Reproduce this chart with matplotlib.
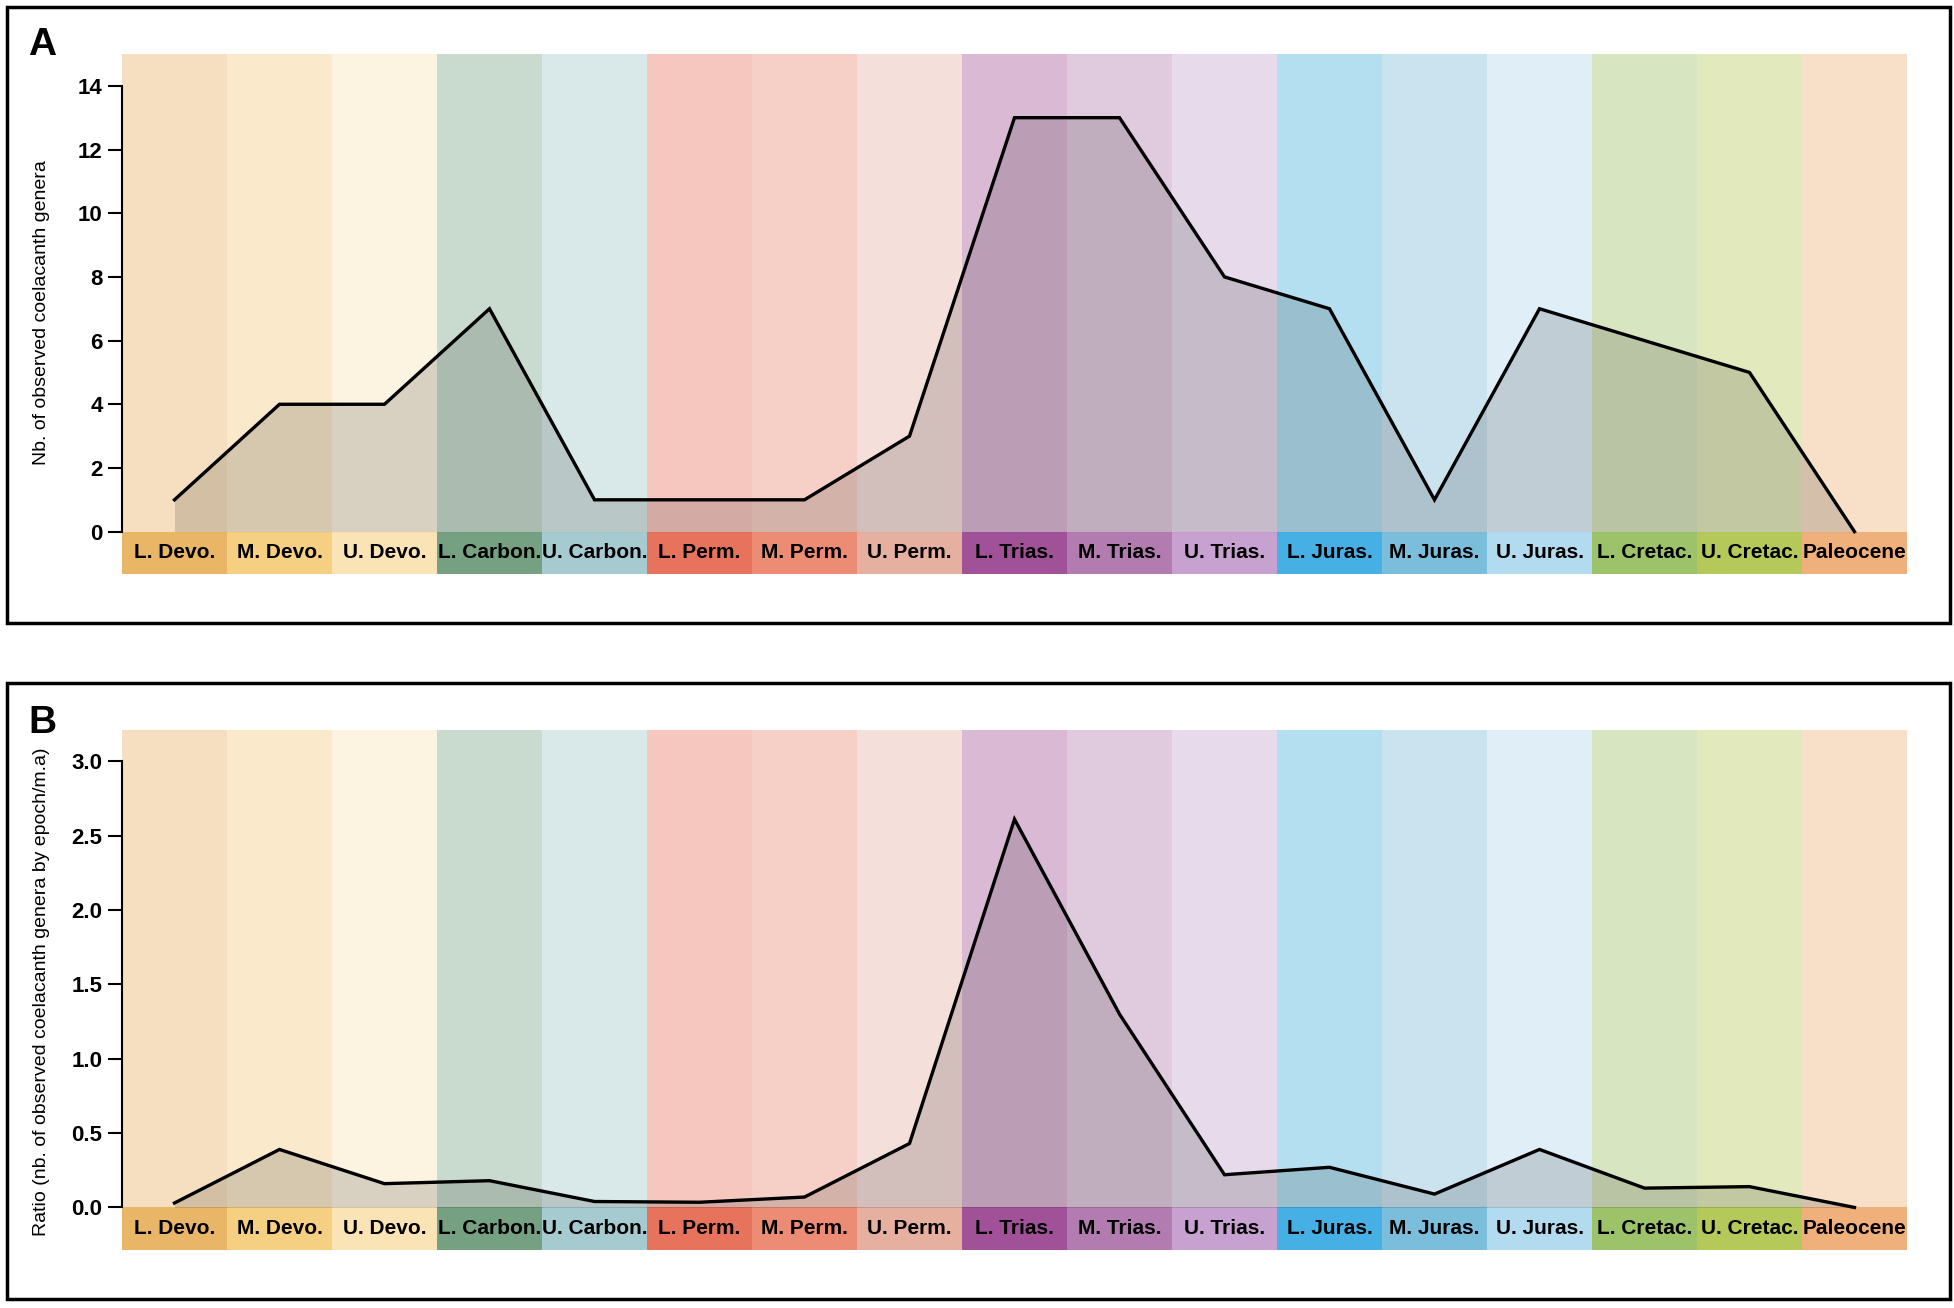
import numpy as np
import matplotlib.pyplot as plt
from matplotlib.patches import Rectangle

plt.rcParams['font.family'] = ['Liberation Sans', 'DejaVu Sans']

# epochs (Devonian -> Paleocene)
epochs = ['L. Devo.', 'M. Devo.', 'U. Devo.', 'L. Carbon.', 'U. Carbon.',
          'L. Perm.', 'M. Perm.', 'U. Perm.', 'L. Trias.', 'M. Trias.',
          'U. Trias.', 'L. Juras.', 'M. Juras.', 'U. Juras.', 'L. Cretac.',
          'U. Cretac.', 'Paleocene']

# panel A: number of observed genera
genera = [1, 4, 4, 7, 1, 1, 1, 3, 13, 13, 8, 7, 1, 7, 6, 5, 0]

# panel B: ratio genera / epoch duration
ratio = [0.03, 0.39, 0.16, 0.18, 0.04, 0.035, 0.07, 0.43, 2.61, 1.30,
         0.22, 0.27, 0.09, 0.39, 0.13, 0.14, 0.0]

band_colors = ['#f5dfc0', '#faeacb', '#fcf3e0', '#c9dace', '#d9e8e8',
               '#f6c7bf', '#f6d0c7', '#f5dfda', '#dab9d5', '#e0cadd',
               '#e7daea', '#b4dff1', '#cbe3ef', '#e0eff7', '#d8e5c1',
               '#e2e9bc', '#f7dfc8']
label_colors = ['#e8b666', '#f5cf82', '#fae3b5', '#76a082', '#a5cbd0',
                '#e8735d', '#ec8c74', '#e6b0a1', '#a05198', '#b37cb0',
                '#c7a1cf', '#46afe3', '#7bbedb', '#b3dbef', '#9cc36a',
                '#b4c95a', '#f0b07c']

fig = plt.figure(figsize=(19.54, 13.08), dpi=100)
W, H = 1954, 1308


def draw_panel(rect, values, ymax, ytop, lab_h, yticks, yticklabels, ylabel,
               ylabel_y, letter, letter_y):
    ax = fig.add_axes(rect)
    x = np.arange(len(epochs))
    # background bands and label strip
    ax.bar(x, ytop, width=1, bottom=0, color=band_colors, linewidth=0)
    ax.bar(x, lab_h, width=1, bottom=-lab_h, color=label_colors, linewidth=0)
    for i, name in enumerate(epochs):
        ax.text(i, -lab_h / 2, name, ha='center', va='center',
                fontsize=15, fontweight='bold', color='black')
    # area + line
    ax.fill_between(x, values, 0, color='black', alpha=0.14, linewidth=0)
    ax.plot(x, values, color='black', lw=2.4, solid_joinstyle='miter')
    ax.set_xlim(-0.5, len(epochs) - 0.5)
    ax.set_ylim(-lab_h, ytop)
    for s in ['top', 'right', 'bottom']:
        ax.spines[s].set_visible(False)
    ax.spines['left'].set_bounds(0, ymax)
    ax.spines['left'].set_linewidth(1.5)
    ax.set_xticks([])
    ax.set_yticks(yticks)
    ax.set_yticklabels(yticklabels, fontweight='bold', fontsize=16)
    ax.tick_params(axis='y', length=10, width=1.5, pad=4)
    fig.text(0.021, ylabel_y, ylabel, rotation=90, ha='center', va='center',
             fontsize=14)
    fig.text(0.0145, letter_y, letter, fontsize=28, fontweight='bold',
             va='baseline')
    return ax


# panel frames
for top_px, bot_px in [(7, 623), (683, 1299)]:
    fig.add_artist(Rectangle((7 / W, 1 - bot_px / H), (1950 - 7) / W,
                             (bot_px - top_px) / H, transform=fig.transFigure,
                             fill=False, edgecolor='black', lw=2.5))

left = 122 / W
width = (1907 - 122) / W

draw_panel([left, 1 - 574 / H, width, (574 - 54) / H], genera, 14, 15, 1.33,
           [0, 2, 4, 6, 8, 10, 12, 14], ['0', '2', '4', '6', '8', '10', '12', '14'],
           'Nb. of observed coelacanth genera', 1 - 313 / H, 'A', 1 - 55 / H)

draw_panel([left, 1 - 1250 / H, width, (1250 - 730) / H], ratio, 3.0, 3.21, 0.286,
           [0, 0.5, 1.0, 1.5, 2.0, 2.5, 3.0],
           ['0.0', '0.5', '1.0', '1.5', '2.0', '2.5', '3.0'],
           'Ratio (nb. of observed coelacanth genera by epoch/m.a)', 1 - 992 / H,
           'B', 1 - 733 / H)

fig.savefig('out.png', dpi=100)
